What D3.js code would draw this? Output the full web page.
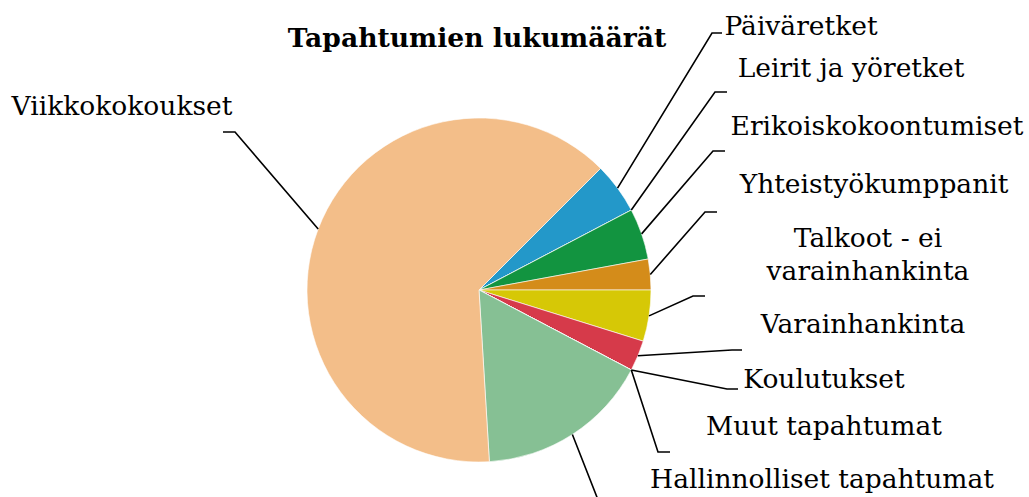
<!DOCTYPE html>
<meta charset="utf-8">

<style>
  body { margin: 0; background: #fff; }
  text { font-family: "DejaVu Serif", serif; fill: #000; }
</style>

<svg class="chart"></svg>

<script src="https://d3js.org/d3.v7.min.js"></script>
<script>

  var width  = 1029;
  var height = 497;

  // data, in slice order (clockwise from 45 degrees)
  var categories = [
    "Päiväretket",
    "Leirit ja yöretket",
    "Erikoiskokoontumiset",
    "Yhteistyökumppanit",
    "Talkoot - ei varainhankinta",
    "Varainhankinta",
    "Koulutukset",
    "Muut tapahtumat",
    "Hallinnolliset tapahtumat",
    "Viikkokokoukset"
  ];
  var counts = [5, 0, 5, 3, 5, 3, 0, 0, 17, 66];
  var colors = ["#2398c9", "#7a7a7a", "#129440", "#d48c1a", "#d6c806",
                "#d63a4a", "#999999", "#bbbbbb", "#86c094", "#f3be89"];

  // label layout: text centre x, text line baselines, leader elbow (x, y, horizontal end x)
  var labelLines = [
    ["Päiväretket"],
    ["Leirit ja yöretket"],
    ["Erikoiskokoontumiset"],
    ["Yhteistyökumppanit"],
    ["Talkoot - ei", "varainhankinta"],
    ["Varainhankinta"],
    ["Koulutukset"],
    ["Muut tapahtumat"],
    ["Hallinnolliset tapahtumat"],
    ["Viikkokokoukset"]
  ];
  var labelX    = [801, 851, 877, 874, 868, 863, 824, 824, 822, 122];
  var labelY    = [35, 77, 135, 193, 247, 333, 388, 435, 488, 115];
  var elbowX    = [712, 715, 713, 705, 693, 732, 727, 658, 602, 235];
  var elbowY    = [33, 92, 151, 212, 296, 350, 389, 452, 510, 132];
  var elbowEndX = [722, 727, 725, 717, 705, 742, 738, 670, 614, 223];

  var cx = 479, cy = 290, radius = 172;

  var chart = d3.select(".chart")
      .attr("width", width)
      .attr("height", height);

  var pie = d3.pie()
      .sort(null)
      .startAngle(Math.PI / 4)
      .endAngle(Math.PI / 4 + 2 * Math.PI)
      .value(function(d) { return d; });

  var arcs = pie(counts);

  var arc = d3.arc()
      .innerRadius(0)
      .outerRadius(radius);

  var rimArc = d3.arc()
      .innerRadius(radius)
      .outerRadius(radius);

  var g = chart.append("g")
      .attr("transform", "translate(" + cx + "," + cy + ")");

  g.selectAll("path.slice")
    .data(arcs)
    .enter().append("path")
      .attr("class", "slice")
      .attr("d", arc)
      .attr("fill", function(d, i) { return colors[i]; })
      .attr("stroke", "#fff")
      .attr("stroke-width", 0.6);

  // leader lines
  chart.append("g")
    .selectAll("polyline")
    .data(arcs)
    .enter().append("polyline")
      .attr("fill", "none")
      .attr("stroke", "#000")
      .attr("stroke-width", 1.6)
      .attr("points", function(d, i) {
        var p = rimArc.centroid(d);
        return [
          [cx + p[0], cy + p[1]],
          [elbowX[i], elbowY[i]],
          [elbowEndX[i], elbowY[i]]
        ].join(" ");
      });

  // labels
  var labels = chart.append("g")
    .selectAll("text")
    .data(categories)
    .enter().append("text")
      .attr("text-anchor", "middle")
      .attr("font-size", 26.5)
      .attr("x", function(d, i) { return labelX[i]; })
      .attr("y", function(d, i) { return labelY[i]; });

  labels.selectAll("tspan")
    .data(function(d, i) { return labelLines[i].map(function(t, j) { return { t: t, x: labelX[i], j: j }; }); })
    .enter().append("tspan")
      .attr("x", function(d) { return d.x; })
      .attr("dy", function(d) { return d.j === 0 ? 0 : 33; })
      .text(function(d) { return d.t; });

  chart.append("text")
      .attr("x", 477)
      .attr("y", 47)
      .attr("text-anchor", "middle")
      .attr("font-size", 26.6)
      .attr("font-weight", "bold")
      .text("Tapahtumien lukumäärät");

</script>
